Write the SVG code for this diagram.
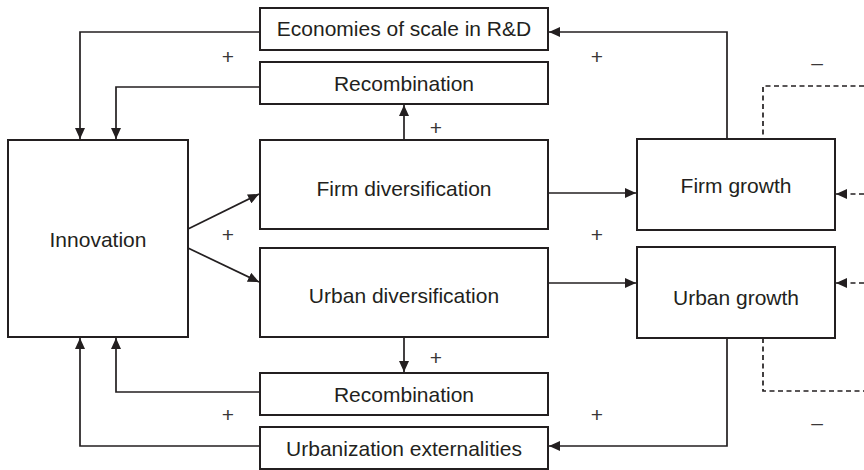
<svg xmlns="http://www.w3.org/2000/svg" width="864" height="470" viewBox="0 0 864 470">
<style>
  .box{fill:#fff;stroke:#231f20;stroke-width:2}
  .lbl{font-family:"Liberation Sans",Arial,sans-serif;font-size:21px;fill:#231f20;text-anchor:middle}
  .sign{font-family:"Liberation Sans",Arial,sans-serif;font-size:21px;fill:#3a3738;text-anchor:middle}
  .ln{fill:none;stroke:#231f20;stroke-width:1.7}
  .dash{stroke-dasharray:5 3.5}
</style>
<defs>
  <marker id="ah" viewBox="0 0 11 10" refX="11" refY="5" markerWidth="11" markerHeight="10" orient="auto" markerUnits="userSpaceOnUse">
    <path d="M0,0 L11,5 L0,10 z" fill="#231f20"/>
  </marker>
</defs>
<rect width="864" height="470" fill="#fff"/>
<g id="connectors">
  <path class="ln" d="M727,139 V32 H549" marker-end="url(#ah)"/>
  <path class="ln" d="M260,32 H80 V139" marker-end="url(#ah)"/>
  <path class="ln" d="M260,87 H116 V139" marker-end="url(#ah)"/>
  <path class="ln" d="M404,140 V105" marker-end="url(#ah)"/>
  <path class="ln" d="M188,229 L259,194" marker-end="url(#ah)"/>
  <path class="ln" d="M188,248 L259,282" marker-end="url(#ah)"/>
  <path class="ln" d="M548,193 H636" marker-end="url(#ah)"/>
  <path class="ln" d="M548,283 H636" marker-end="url(#ah)"/>
  <path class="ln" d="M404,337 V372" marker-end="url(#ah)"/>
  <path class="ln" d="M260,392 H116 V338" marker-end="url(#ah)"/>
  <path class="ln" d="M260,446 H80 V338" marker-end="url(#ah)"/>
  <path class="ln" d="M727,338 V446 H549" marker-end="url(#ah)"/>
  <path class="ln dash" d="M864,86 H763 V139"/>
  <path class="ln dash" d="M864,194 H836" marker-end="url(#ah)"/>
  <path class="ln dash" d="M864,283 H836" marker-end="url(#ah)"/>
  <path class="ln dash" d="M763,338 V391 H864"/>
</g>
<g id="innovation"><rect class="box" x="8" y="140" width="180" height="197"/><text class="lbl" x="98" y="247">Innovation</text></g>
<g id="economies"><rect class="box" x="260" y="8" width="288" height="42"/><text class="lbl" x="404" y="36">Economies of scale in R&amp;D</text></g>
<g id="recombination-top"><rect class="box" x="260" y="62" width="288" height="42"/><text class="lbl" x="404" y="91">Recombination</text></g>
<g id="firm-diversification"><rect class="box" x="260" y="140" width="288" height="89"/><text class="lbl" x="404" y="196">Firm diversification</text></g>
<g id="urban-diversification"><rect class="box" x="260" y="248" width="288" height="89"/><text class="lbl" x="404" y="303">Urban diversification</text></g>
<g id="recombination-bottom"><rect class="box" x="260" y="373" width="288" height="42"/><text class="lbl" x="404" y="402">Recombination</text></g>
<g id="urbanization-externalities"><rect class="box" x="260" y="427" width="288" height="42"/><text class="lbl" x="404" y="456">Urbanization externalities</text></g>
<g id="firm-growth"><rect class="box" x="637" y="139" width="198" height="91"/><text class="lbl" x="736" y="193">Firm growth</text></g>
<g id="urban-growth"><rect class="box" x="637" y="247" width="198" height="91"/><text class="lbl" x="736" y="305">Urban growth</text></g>
<g id="signs">
  <text class="sign" x="228" y="64">+</text>
  <text class="sign" x="597" y="64">+</text>
  <text class="sign" x="436" y="135">+</text>
  <text class="sign" x="228" y="242">+</text>
  <text class="sign" x="597" y="242">+</text>
  <text class="sign" x="436" y="365">+</text>
  <text class="sign" x="228" y="422">+</text>
  <text class="sign" x="597" y="422">+</text>
  <text class="sign" x="817" y="70">–</text>
  <text class="sign" x="817" y="430">–</text>
</g>
</svg>
